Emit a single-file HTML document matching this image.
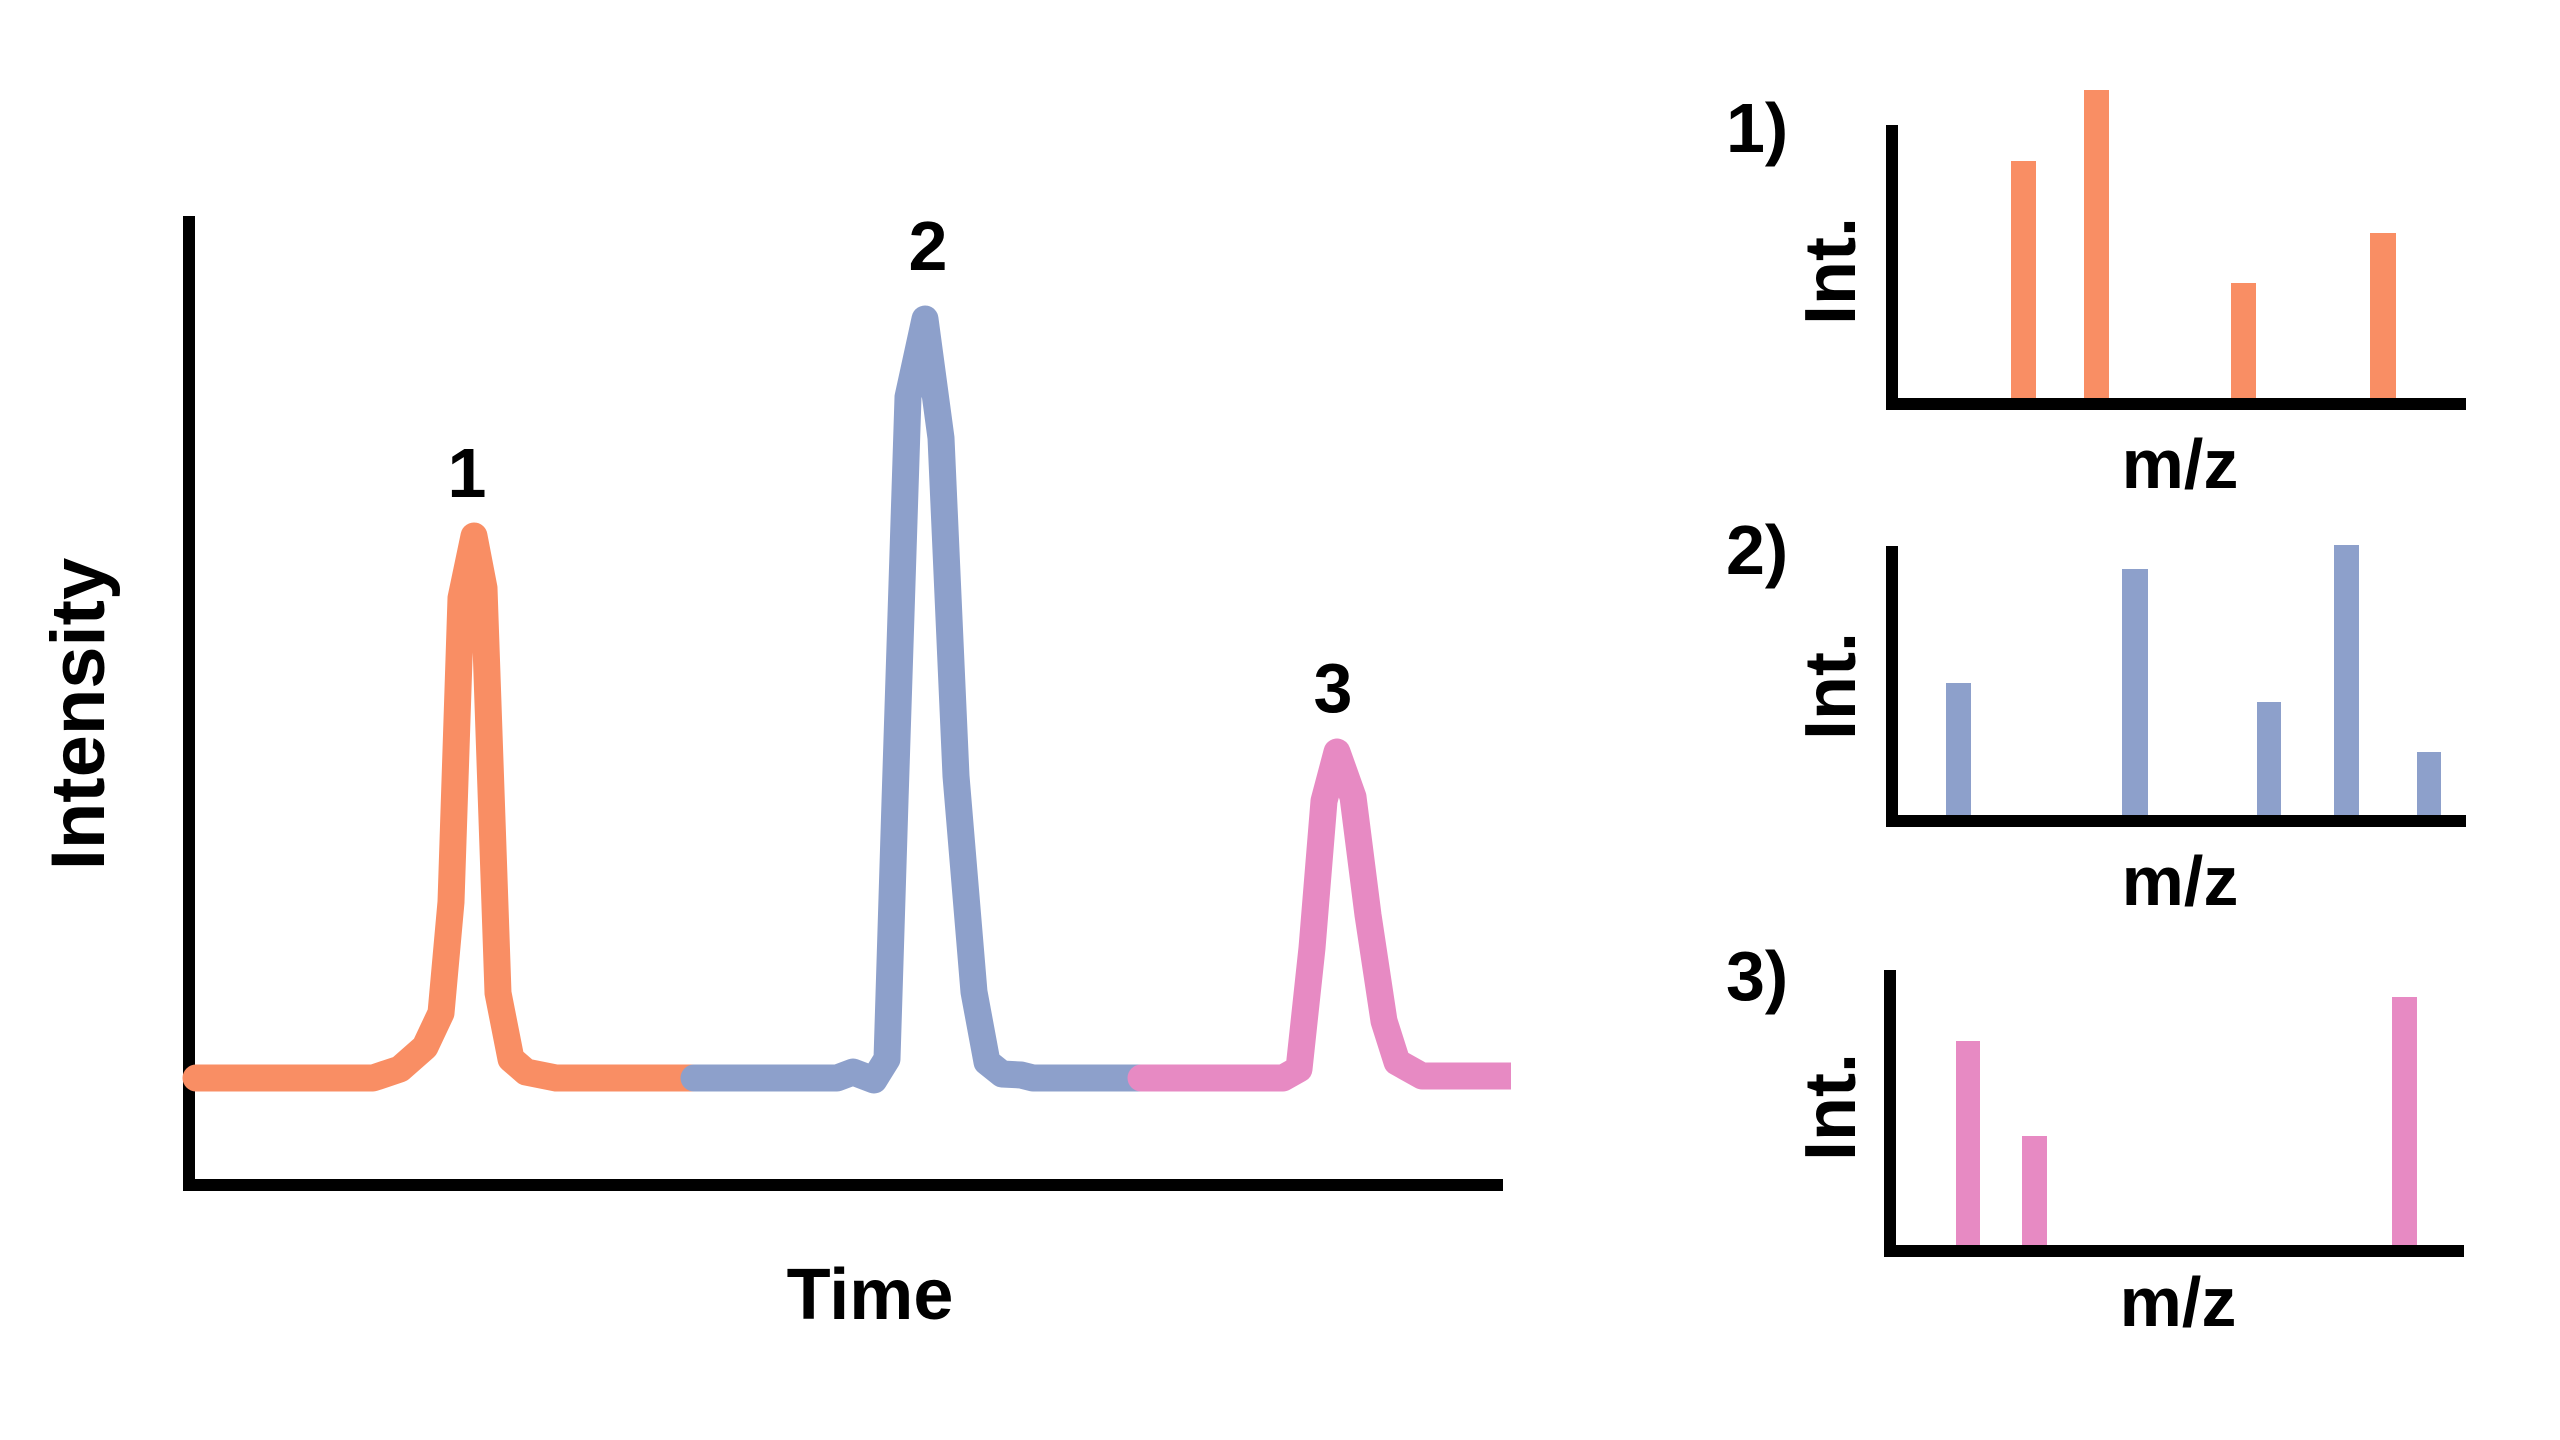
<!DOCTYPE html>
<html><head><meta charset="utf-8"><style>
html,body{margin:0;padding:0;background:#fff;}
svg{display:block;}
text{font-family:"Liberation Sans",Arial,sans-serif;font-weight:bold;fill:#000;}
</style></head><body>
<svg width="2560" height="1440" viewBox="0 0 2560 1440" xmlns="http://www.w3.org/2000/svg">
<rect width="2560" height="1440" fill="#fff"/>
<!-- main axes -->
<line x1="189" y1="216" x2="189" y2="1191" stroke="#000" stroke-width="12"/>
<line x1="183" y1="1185" x2="1503" y2="1185" stroke="#000" stroke-width="12"/>
<!-- chromatogram -->
<g fill="none" stroke-width="27" stroke-linejoin="round">
<polyline stroke="#F98E64" stroke-linecap="round" points="196,1078 373,1078 400,1069 425,1047 441,1013 451,902 461,598 474,536 484,588 498,993 511,1059 526,1072 556,1078 694,1078"/>
<polyline stroke="#8DA0CB" stroke-linecap="round" points="694,1078 837,1078 853,1072 874,1080 887,1059 895,801 908,397 925,319 941,438 956,776 974,992 987,1062 1002,1074 1021,1075 1033,1078 1141,1078"/>
<polyline stroke="#E78AC3" stroke-linecap="butt" points="1141,1078 1283,1078 1299,1069 1312,948 1324,801 1337,752 1353,797 1368,915 1384,1021 1397,1062 1422,1076 1511,1076"/>
<line x1="1141" y1="1078" x2="1150" y2="1078" stroke="#E78AC3" stroke-linecap="round"/>
</g>
<text x="467" y="497" font-size="70" text-anchor="middle">1</text>
<text x="928" y="270" font-size="70" text-anchor="middle">2</text>
<text x="1333" y="712" font-size="70" text-anchor="middle">3</text>
<text transform="translate(104,714) rotate(-90)" font-size="76" text-anchor="middle">Intensity</text>
<text x="870" y="1319" font-size="72" text-anchor="middle">Time</text>

<!-- panel 1 -->
<line x1="1892" y1="125" x2="1892" y2="410" stroke="#000" stroke-width="12"/>
<line x1="1886" y1="404" x2="2466" y2="404" stroke="#000" stroke-width="12"/>
<g fill="#F98E64">
<rect x="2011" y="161" width="25" height="237"/>
<rect x="2084" y="90" width="25" height="308"/>
<rect x="2231" y="283" width="25" height="115"/>
<rect x="2370" y="233" width="26" height="165"/>
</g>
<text x="1726" y="152" font-size="70">1)</text>
<text transform="translate(1855,271) rotate(-90)" font-size="72" text-anchor="middle">Int.</text>
<text x="2180" y="488" font-size="70" text-anchor="middle">m/z</text>

<!-- panel 2 -->
<line x1="1892" y1="546" x2="1892" y2="827" stroke="#000" stroke-width="12"/>
<line x1="1886" y1="821" x2="2466" y2="821" stroke="#000" stroke-width="12"/>
<g fill="#8DA0CB">
<rect x="1946" y="683" width="25" height="132"/>
<rect x="2122" y="569" width="26" height="246"/>
<rect x="2257" y="702" width="24" height="113"/>
<rect x="2334" y="545" width="25" height="270"/>
<rect x="2417" y="752" width="24" height="63"/>
</g>
<text x="1726" y="574" font-size="70">2)</text>
<text transform="translate(1855,686) rotate(-90)" font-size="72" text-anchor="middle">Int.</text>
<text x="2180" y="905" font-size="70" text-anchor="middle">m/z</text>

<!-- panel 3 -->
<line x1="1890" y1="970" x2="1890" y2="1257" stroke="#000" stroke-width="12"/>
<line x1="1884" y1="1251" x2="2464" y2="1251" stroke="#000" stroke-width="12"/>
<g fill="#E78AC3">
<rect x="1956" y="1041" width="24" height="204"/>
<rect x="2022" y="1136" width="25" height="109"/>
<rect x="2392" y="997" width="25" height="248"/>
</g>
<text x="1726" y="1000" font-size="70">3)</text>
<text transform="translate(1855,1107) rotate(-90)" font-size="72" text-anchor="middle">Int.</text>
<text x="2178" y="1326" font-size="70" text-anchor="middle">m/z</text>
</svg>
</body></html>
